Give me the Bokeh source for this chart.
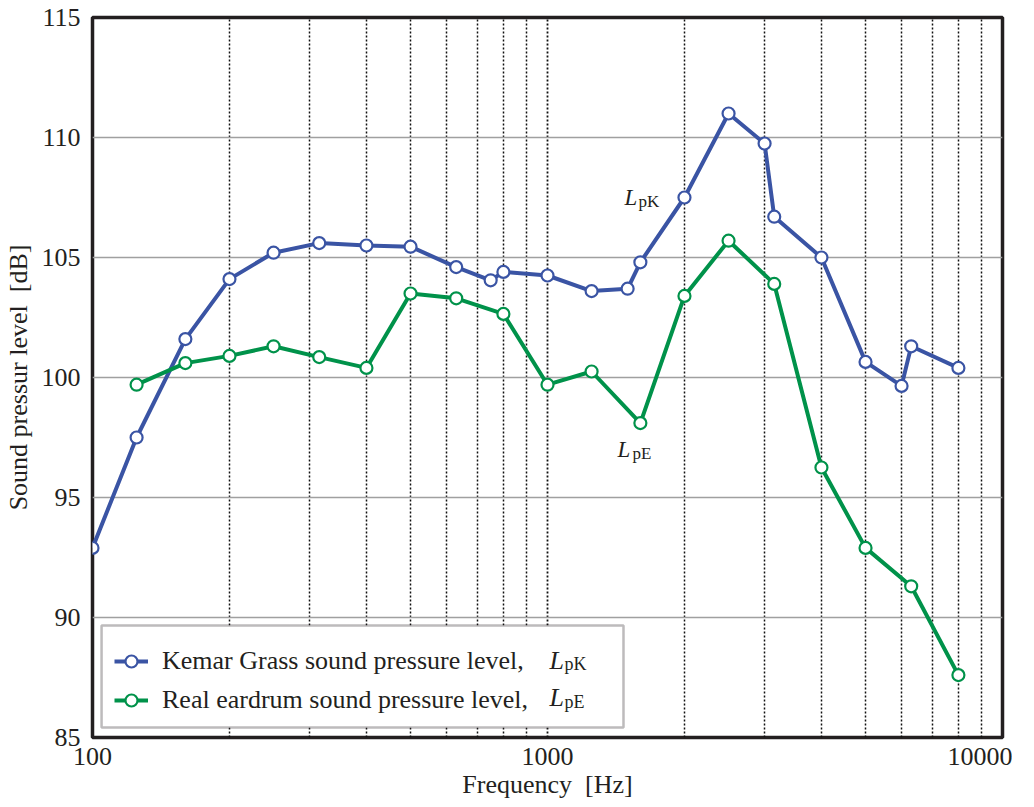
from bokeh.plotting import figure
from bokeh.models import (FixedTicker, CustomJSTickFormatter, Legend, LegendItem,
                          Label, BoxAnnotation)
from bokeh.embed import file_html
from bokeh.resources import INLINE

# ---- data ----
freq_kemar = [100, 125, 160, 200, 250, 315, 400, 500, 630, 750, 800, 1000, 1250,
              1500, 1600, 2000, 2500, 3000, 3150, 4000, 5000, 6000, 6300, 8000]
spl_kemar = [92.9, 97.5, 101.6, 104.1, 105.2, 105.6, 105.5, 105.45, 104.6, 104.05, 104.4,
             104.25, 103.6, 103.7, 104.8, 107.5, 111.0, 109.75, 106.7, 105.0, 100.65,
             99.65, 101.3, 100.4]

freq_ear = [125, 160, 200, 250, 315, 400, 500, 630, 800, 1000, 1250, 1600, 2000,
            2500, 3150, 4000, 5000, 6300, 8000]
spl_ear = [99.7, 100.6, 100.9, 101.3, 100.85, 100.4, 103.5, 103.3, 102.65, 99.7,
           100.25, 98.1, 103.4, 105.7, 103.9, 96.25, 92.9, 91.3, 87.6]

x_major = [100, 1000, 10000]
x_minor = [200, 300, 400, 500, 600, 700, 800, 900,
           2000, 3000, 4000, 5000, 6000, 7000, 8000, 9000]
y_ticks = [85, 90, 95, 100, 105, 110, 115]

NB = "\u00a0"
label_kemar = "Kemar Grass sound pressure level,"
label_ear = "Real eardrum sound pressure level,"
x_title = "Frequency" + NB + NB + "[Hz]"
y_title = "Sound pressur level" + NB + NB + "[dB]"

BLUE = "#3a54a4"
GREEN = "#00924a"
TXT = "#231f20"
FONT = "Liberation Serif"

p = figure(frame_width=910, frame_height=720, x_axis_type="log",
           x_range=(100, 10000), y_range=(85, 115),
           output_backend="svg", toolbar_location=None,
           min_border_left=83, min_border_right=10,
           min_border_top=17, min_border_bottom=55)

p.outline_line_color = TXT
p.outline_line_width = 3.5
p.background_fill_color = "white"

# axes
p.xaxis.ticker = FixedTicker(ticks=x_major, minor_ticks=x_minor)
p.xaxis.formatter = CustomJSTickFormatter(code="return tick.toFixed(0)")
p.yaxis.ticker = FixedTicker(ticks=y_ticks)
for ax in (p.xaxis, p.yaxis):
    ax.axis_line_color = None
    ax.major_tick_line_color = None
    ax.minor_tick_line_color = None
    ax.major_label_text_font = FONT
    ax.major_label_text_font_size = "26px"
    ax.major_label_text_color = TXT
    ax.axis_label_text_font = FONT
    ax.axis_label_text_font_size = "26px"
    ax.axis_label_text_font_style = "normal"
    ax.axis_label_text_color = TXT
p.xaxis.axis_label = x_title
p.yaxis.axis_label = y_title
p.xaxis.major_label_standoff = 4
p.xaxis.axis_label_standoff = 2
p.yaxis.major_label_standoff = 6
p.yaxis.axis_label_standoff = 6

# grids
p.ygrid.grid_line_color = "#a0a0a0"
p.ygrid.grid_line_width = 1.3
p.xgrid.grid_line_color = "#111111"
p.xgrid.grid_line_dash = "2 2"
p.xgrid.grid_line_width = 1.8
p.xgrid.minor_grid_line_color = "#111111"
p.xgrid.minor_grid_line_dash = "2 2"
p.xgrid.minor_grid_line_width = 1.5

# legend background / frame (drawn under the legend contents)
p.add_layout(BoxAnnotation(left=104.7, right=1469, bottom=85.42, top=89.67,
                           fill_color="white", fill_alpha=1.0,
                           line_color=TXT, line_width=2.5, level="underlay"))

# series
lk = p.line(freq_kemar, spl_kemar, line_color=BLUE, line_width=4)
sk = p.scatter(freq_kemar, spl_kemar, size=12, marker="circle",
               fill_color="white", line_color=BLUE, line_width=2.2)
le = p.line(freq_ear, spl_ear, line_color=GREEN, line_width=4)
se = p.scatter(freq_ear, spl_ear, size=12, marker="circle",
               fill_color="white", line_color=GREEN, line_width=2.2)

legend = Legend(items=[LegendItem(label=label_kemar, renderers=[lk, sk]),
                       LegendItem(label=label_ear, renderers=[le, se])],
                location=(22, 22))
legend.label_text_font = FONT
legend.label_text_font_size = "26px"
legend.label_text_color = TXT
legend.glyph_width = 34
legend.glyph_height = 30
legend.label_height = 30
legend.label_standoff = 14
legend.spacing = 9
legend.padding = 13
legend.margin = 0
legend.border_line_color = None
legend.background_fill_alpha = 0.0
p.add_layout(legend)


def sym(x, y, main, sub, main_size, sub_size, dx_sub):
    p.add_layout(Label(x=x, y=y, text=main, text_font=FONT, text_font_style="italic",
                       text_font_size=main_size, text_color=TXT, level="overlay",
                       text_baseline="alphabetic", text_align="left"))
    p.add_layout(Label(x=dx_sub, y=y - 0.17, text=sub, text_font=FONT,
                       text_font_size=sub_size, text_color=TXT, level="overlay",
                       text_baseline="alphabetic", text_align="left"))


# curve labels
sym(1476, 107.5, "L", "pK", "23px", "17px", 1585)
sym(1425, 97.02, "L", "pE", "23px", "17px", 1538)
# legend symbols
sym(1010, 88.22, "L", "pK", "26px", "18px", 1090)
sym(1010, 86.65, "L", "pE", "26px", "18px", 1090)

open("out.html", "w").write(file_html(p, INLINE))
